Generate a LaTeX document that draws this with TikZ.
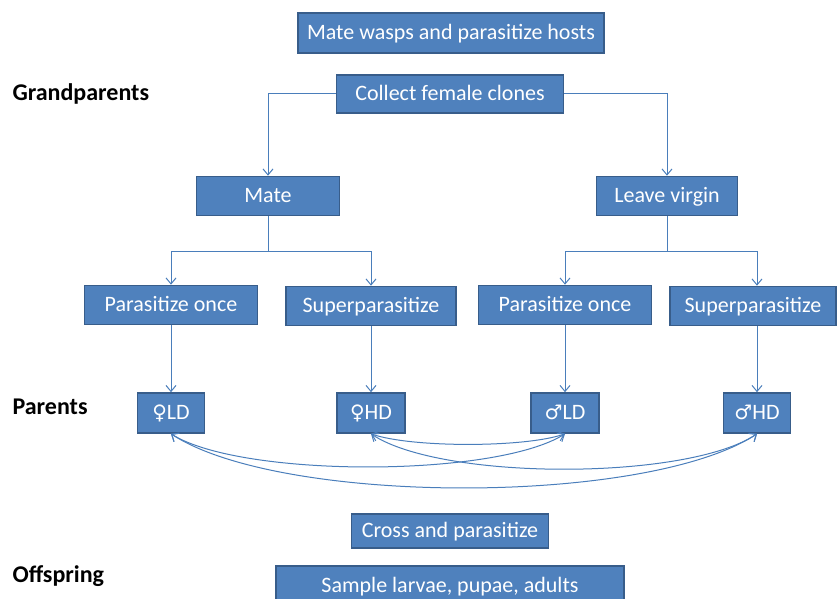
\documentclass[tikz,border=0pt]{standalone}
\usepackage{fontspec}
\setmainfont{Carlito}
\newfontfamily\signfont{DejaVu Sans}
\usetikzlibrary{arrows.meta,positioning}
\definecolor{BoxFill}{RGB}{79,129,189}
\definecolor{BoxEdge}{RGB}{56,93,138}
\definecolor{Link}{RGB}{74,126,187}

\begin{document}
\begin{tikzpicture}[x=1pt,y=-1pt,
    box/.style={draw=BoxEdge, line width=1.6pt, fill=BoxFill, text=white,
      font=\fontsize{22}{26}\selectfont, inner sep=0pt, minimum height=39pt,
      text height=17pt, text depth=4pt},
    link/.style={draw=Link, line width=1pt, -{Straight Barb[length=6pt,width=10pt]}},
    cross/.style={draw=Link, line width=1pt,
      {Straight Barb[length=6pt,width=10pt]}-{Straight Barb[length=6pt,width=10pt]}},
    gen/.style={font=\fontsize{24}{28}\selectfont\bfseries, anchor=west}]
    %% Background
    \useasboundingbox (0,0) rectangle (837,599);

    %% Generations
    \node[gen] (grand) at (9,94) {Grandparents};
    \node[gen] (parents) at (9,407) {Parents};
    \node[gen] (offspring) at (9,576) {Offspring};

    %% Grandparents
    \node[box, minimum width=306, minimum height=40] (task) at (451,33) {Mate wasps and parasitize hosts};
    \node[box, minimum width=227, minimum height=38] (collect) at (450,94) {Collect female clones};
    \node[box, minimum width=143] (mate) at (268,196) {Mate};
    \node[box, minimum width=141] (virgin) at (667,196) {Leave virgin};

    \draw[link] (collect.west) -| (mate.north);
    \draw[link] (collect.east) -| (virgin.north);

    %% Treatments
    \node[box, minimum width=173] (onceA) at (171,305) {Parasitize once};
    \node[box, minimum width=170] (superA) at (371,306) {Superparasitize};
    \node[box, minimum width=173] (onceB) at (565,305) {Parasitize once};
    \node[box, minimum width=166] (superB) at (753,306) {Superparasitize};

    \coordinate (splitA) at (268,251);
    \coordinate (splitB) at (667,251);
    \draw[link] (mate.south) -- (splitA) -| (onceA.north);
    \draw[link] (splitA) -| (superA.north);
    \draw[link] (virgin.south) -- (splitB) -| (onceB.north);
    \draw[link] (splitB) -| ([xshift=4pt]superB.north);

    %% Parents
    \node[box, minimum width=67, minimum height=40] (fLD) at (171,413) {{\signfont\fontsize{20}{24}\selectfont ♀}LD};
    \node[box, minimum width=68, minimum height=40] (fHD) at (371,413) {{\signfont\fontsize{20}{24}\selectfont ♀}HD};
    \node[box, minimum width=68, minimum height=40] (mLD) at (565,413) {{\signfont\fontsize{20}{24}\selectfont ♂}LD};
    \node[box, minimum width=67, minimum height=40] (mHD) at (757,413) {{\signfont\fontsize{20}{24}\selectfont ♂}HD};

    \draw[link] (onceA.south) -- (fLD.north);
    \draw[link] (superA.south) -- (fHD.north);
    \draw[link] (onceB.south) -- (mLD.north);
    \draw[link] (mHD.north |- superB.south) -- (mHD.north);

    %% Crosses
    \draw[cross] (fHD.south) .. controls +(40,14) and +(-40,14) .. (mLD.south);
    \draw[cross] (fLD.south) .. controls +(70,44) and +(-70,44) .. (mLD.south);
    \draw[cross] (fHD.south) .. controls +(70,47) and +(-70,47) .. (mHD.south);
    \draw[cross] (fLD.south) .. controls +(110,72) and +(-110,72) .. (mHD.south);

    %% Offspring
    \node[box, minimum width=197, minimum height=34] (crossing) at (450,531) {Cross and parasitize};
    \node[box, minimum width=348, minimum height=40] (sample) at (450,586) {Sample larvae, pupae, adults};
\end{tikzpicture}
\end{document}
